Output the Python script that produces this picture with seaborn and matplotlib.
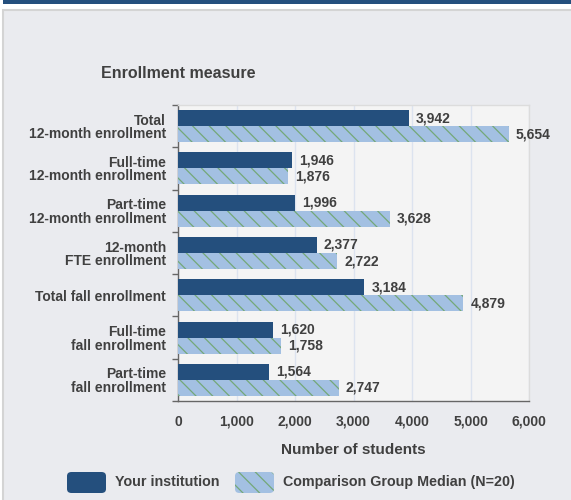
import seaborn as sns
import pandas as pd
import matplotlib.pyplot as plt
from matplotlib.patches import Rectangle, FancyBboxPatch

#-----------------------------------------------------------------------------------------------------------------------
"""Data"""
measures = ['Total\n12-month enrollment', 'Full-time\n12-month enrollment', 'Part-time\n12-month enrollment',
            '12-month\nFTE enrollment', 'Total fall enrollment', 'Full-time\nfall enrollment',
            'Part-time\nfall enrollment']
your_institution = [3942, 1946, 1996, 2377, 3184, 1620, 1564]
comparison_median = [5654, 1876, 3628, 2722, 4879, 1758, 2747]
groups = ['Your institution', 'Comparison Group Median (N=20)']
x_ticks = [0, 1000, 2000, 3000, 4000, 5000, 6000]

df = pd.DataFrame({
    'measure': measures * 2,
    'students': your_institution + comparison_median,
    'group': [groups[0]] * len(measures) + [groups[1]] * len(measures),
})

#-----------------------------------------------------------------------------------------------------------------------
"""Style"""
dark = '#244f7d'
light = '#a3c0e2'
hatch_green = '#74a878'
txt = '#404040'
panel_bg = '#eaebef'
MyFont = 'Liberation Sans'

plt.rcParams['font.family'] = [MyFont, 'DejaVu Sans']
plt.rcParams['hatch.linewidth'] = 0.9

fig = plt.figure(figsize=(5.71, 5.0), dpi=100)
fig.patch.set_facecolor('white')

# frame: blue strip at the top and grey panel (behind the axes)
fig.add_artist(Rectangle((3 / 571, 1 - 4 / 500), 1, 4 / 500, transform=fig.transFigure,
                         facecolor='#244f7d', edgecolor='none', zorder=-2))
fig.add_artist(Rectangle((3 / 571, -0.01), 1, 1 - 10 / 500 + 0.01, transform=fig.transFigure,
                         facecolor=panel_bg, edgecolor='#d4d4d4', linewidth=1.5, zorder=-2))

ax = fig.add_axes([178 / 571, 99 / 500, 351 / 571, 296 / 500])
ax.set_facecolor('#f4f4f4')

#-----------------------------------------------------------------------------------------------------------------------
"""Bars"""
sns.barplot(data=df, y='measure', x='students', hue='group', orient='h', palette=[dark, light],
            width=0.76, ax=ax, legend=False, zorder=3, saturation=1)

for bar in ax.containers[0]:
    bar.set_edgecolor('none')
for bar in ax.containers[1]:
    bar.set_hatch('\\\\')
    bar.set_edgecolor(hatch_green)
    bar.set_linewidth(0)

for cont in ax.containers:
    ax.bar_label(cont, labels=[f'{v:,.0f}' for v in cont.datavalues], padding=5,
                 fontsize=10, fontweight='bold', color=txt, family=[MyFont, 'DejaVu Sans'])

#-----------------------------------------------------------------------------------------------------------------------
"""Axes"""
ax.set_xlim(0, 6000)
ax.set_ylim(6.5, -0.5)
ax.set_xticks(x_ticks)
ax.set_xticklabels([f'{t:,}' for t in x_ticks], fontsize=10, fontweight='bold', color=txt)
ax.tick_params(axis='x', length=0, pad=10)
ax.set_yticks(range(len(measures)))
ax.set_yticklabels(measures, fontsize=10, fontweight='bold', color=txt)
ax.set_yticks([i - 0.5 for i in range(len(measures) + 1)], minor=True)
ax.tick_params(axis='y', which='major', length=0, pad=8.5)
ax.tick_params(axis='y', which='minor', length=4.5, width=1, color='#666666')
for label in ax.get_yticklabels():
    label.set_linespacing(0.95)

ax.grid(axis='x', color='#dce3ef', linewidth=1, zorder=0)
ax.grid(axis='y', visible=False)
ax.set_axisbelow(True)

for s in ['left', 'bottom']:
    ax.spines[s].set_color('#666666')
    ax.spines[s].set_linewidth(1)
for s in ['top', 'right']:
    ax.spines[s].set_color('#dcdcdc')
    ax.spines[s].set_linewidth(1)

ax.set_ylabel('')
ax.set_xlabel('Number of students', fontsize=11, fontweight='bold', color=txt, labelpad=10)

fig.text(178 / 571, 1 - 74 / 500, 'Enrollment measure', ha='center', va='center',
         fontsize=11.5, fontweight='bold', color=txt)

#-----------------------------------------------------------------------------------------------------------------------
"""Legend"""
legend_items = [(67, groups[0], dark, None), (235, groups[1], light, '\\\\')]
for x0, name, col, hatch in legend_items:
    p = FancyBboxPatch((x0 / 571, 1 - 493 / 500), 39 / 571, 21 / 500, transform=fig.transFigure,
                       boxstyle='round,pad=0,rounding_size=0.008', facecolor=col,
                       edgecolor=hatch_green if hatch else 'none', linewidth=0, hatch=hatch)
    fig.add_artist(p)
    fig.text((x0 + 48) / 571, 1 - 482 / 500, name, ha='left', va='center',
             fontsize=10.3, fontweight='bold', color=txt)

#-----------------------------------------------------------------------------------------------------------------------
"""Save"""
fig.savefig('out.png', dpi=100, facecolor=fig.get_facecolor())
